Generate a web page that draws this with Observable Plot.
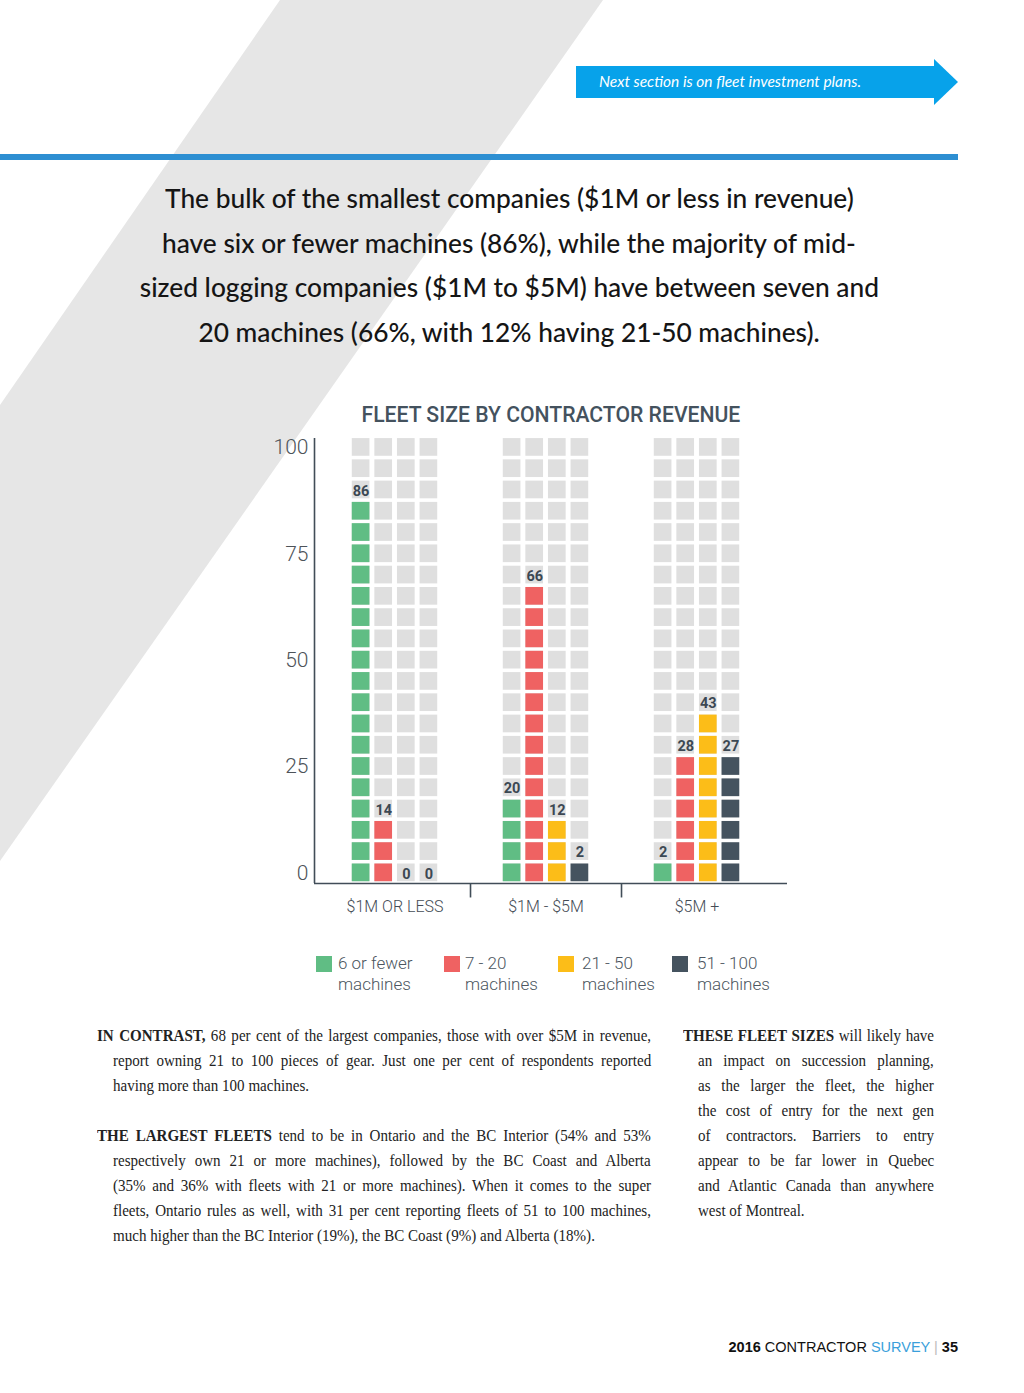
<!DOCTYPE html>
<html>
<head>
<meta charset="utf-8">
<script src="https://cdn.jsdelivr.net/npm/d3@7"></script>
<script src="https://cdn.jsdelivr.net/npm/@observablehq/plot@0.6"></script>
<style>
  html, body { margin: 0; padding: 0; }
  body { width: 1024px; height: 1393px; position: relative; overflow: hidden; background: #fff; font-family: Lato, "Noto Sans", sans-serif; }
  .abs { position: absolute; }
  #banner-text { left: 599px; top: 72px; color: #fff; font-style: italic; font-size: 15.5px; font-family: Lato, sans-serif; white-space: nowrap; }
  #headline { left: 0; width: 1018px; top: 176px; text-align: center; color: #151515; font-size: 26px; font-weight: 500; line-height: 44.5px; }
  #headline div { white-space: nowrap; }
  #headline span { display: inline-block; transform-origin: 50% 50%; }
  #title { left: 0; width: 1101px; top: 402px; text-align: center; color: #44525e; font-family: Roboto, sans-serif; font-weight: 500; font-size: 22px; white-space: nowrap; }
  #title span { display: inline-block; transform-origin: 50% 50%; }
  #chart { left: 0; top: 430px; }
  .leg { top: 953px; font-family: Roboto, sans-serif; font-weight: 300; font-size: 17px; line-height: 21px; color: #4c5660; white-space: nowrap; }
  .leg .sw { position: absolute; left: 0; top: 3px; width: 16px; height: 16px; }
  .col { font-family: "Liberation Serif", serif; font-size: 17.5px; line-height: 25px; color: #222; transform-origin: 0 0; }
  .col .ln { white-space: nowrap; }
  .col .ln span { display: inline-block; }
  .col b { font-weight: bold; }
  #footer { right: 66px; top: 1339px; font-family: "Liberation Sans", Arial, sans-serif; font-size: 14.5px; color: #111; white-space: nowrap; }
</style>
</head>
<body>
<svg class="abs" style="left:0;top:0" width="1024" height="1393">
  <polygon points="280,0 603,0 0,861 0,405" fill="#e6e6e6"/>
  <rect x="576" y="66" width="358" height="32" fill="#07a2ea"/>
  <polygon points="934,59 958,82 934,105" fill="#07a2ea"/>
  <rect x="0" y="154" width="958" height="6" fill="#2d8fd2"/>
</svg>
<div id="banner-text" class="abs">Next section is on fleet investment plans.</div>
<div id="headline" class="abs"></div>
<div id="title" class="abs"><span>FLEET SIZE BY CONTRACTOR REVENUE</span></div>
<div id="chart" class="abs"></div>
<div id="legend"></div>
<div id="colL" class="abs col"></div>
<div id="colR" class="abs col"></div>
<div id="footer" class="abs"><b>2016</b> CONTRACTOR <span style="color:#3a9fdb">SURVEY</span> <span style="color:#bbb;font-weight:300">|</span> <b>35</b></div>

<script>
// ---------------- data ----------------
const categories = ["$1M OR LESS", "$1M - $5M", "$5M +"];
const series = ["6 or fewer machines", "7 - 20 machines", "21 - 50 machines", "51 - 100 machines"];
const legendTop = ["6 or fewer", "7 - 20", "21 - 50", "51 - 100"];
const legendBottom = ["machines", "machines", "machines", "machines"];
const colors = ["#60bd84", "#ef6262", "#fcbd18", "#45535f"];
// per cent of companies (label values), per revenue category, one entry per series
const shareSmall = [86, 14, 0, 0];
const shareMid = [20, 66, 12, 2];
const shareLarge = [2, 28, 43, 27];
// filled squares as drawn in the picture (each grid row is a 5-point step)
const squaresSmall = [18, 3, 0, 0];
const squaresMid = [4, 14, 3, 1];
const squaresLarge = [1, 6, 8, 6];
const yTicks = [0, 25, 50, 75, 100];
const gridRows = 21;
const rowStep = 5;

const headlineLines = [
  "The bulk of the smallest companies ($1M or less in revenue)",
  "have six or fewer machines (86%), while the majority of mid-",
  "sized logging companies ($1M to $5M) have between seven and",
  "20 machines (66%, with 12% having 21-50 machines)."
];
const leftParas = [
  ["<b>IN CONTRAST,</b> 68 per cent of the largest companies, those with over $5M in revenue,",
   "report owning 21 to 100 pieces of gear. Just one per cent of respondents reported",
   "having more than 100 machines."],
  ["<b>THE LARGEST FLEETS</b> tend to be in Ontario and the BC Interior (54% and 53%",
   "respectively own 21 or more machines), followed by the BC Coast and Alberta",
   "(35% and 36% with fleets with 21 or more machines). When it comes to the super",
   "fleets, Ontario rules as well, with 31 per cent reporting fleets of 51 to 100 machines,",
   "much higher than the BC Interior (19%), the BC Coast (9%) and Alberta (18%)."]
];
const rightParas = [
  ["<b>THESE FLEET SIZES</b> will likely have",
   "an impact on succession planning,",
   "as the larger the fleet, the higher",
   "the cost of entry for the next gen",
   "of contractors. Barriers to entry",
   "appear to be far lower in Quebec",
   "and Atlantic Canada than anywhere",
   "west of Montreal."]
];

// ---------------- build records ----------------
const shares = [shareSmall, shareMid, shareLarge];
const squares = [squaresSmall, squaresMid, squaresLarge];
const cells = [];
const labels = [];
categories.forEach((cat, c) => {
  series.forEach((s, j) => {
    const n = squares[c][j];
    for (let r = 0; r < gridRows; r++) cells.push({cat, series: s, j, v: r * rowStep, filled: r < n});
    labels.push({cat, series: s, j, v: n * rowStep, value: shares[c][j]});
  });
});

// ---------------- chart ----------------
const W = 1024, H = 500, mL = 314, mR = 237, mT = 8, mB = 47;
const padOuter = 0.066, align = 0.25;
const step = (W - mL - mR) / (categories.length + 2 * padOuter);
const sq = 17.7;                 // square side (px)
const pitch = 22.6;              // sub-column pitch (px)
const inset = (step - sq) / 2;
const half = 2.08;               // half square height in value units
const off = j => (j - (series.length - 1) / 2) * pitch;
const axisColor = "#414d58";

const marks = [];
series.forEach((s, j) => {
  marks.push(Plot.barY(cells.filter(d => d.j === j), {
    x: "cat", y1: d => d.v - half, y2: d => d.v + half, fill: "#dfdfdf",
    dx: off(j), insetLeft: inset, insetRight: inset
  }));
});
series.forEach((s, j) => {
  marks.push(Plot.barY(cells.filter(d => d.j === j && d.filled), {
    x: "cat", y1: d => d.v - half, y2: d => d.v + half, fill: "series",
    dx: off(j), insetLeft: inset, insetRight: inset
  }));
});
series.forEach((s, j) => {
  marks.push(Plot.text(labels.filter(d => d.j === j), {
    x: "cat", y: "v", text: d => String(d.value), dx: off(j), dy: 1,
    fill: "#3c4853", fontSize: 14.5, fontWeight: "bold"
  }));
});
marks.push(Plot.ruleY([-2.5], {stroke: axisColor, strokeWidth: 1.6}));
marks.push(Plot.ruleX(categories.slice(0, 1), {x: d => d, dx: -step / 2 - 2 * padOuter * step * align, y1: -2.5, y2: 102.1, stroke: axisColor, strokeWidth: 1.6}));
marks.push(Plot.ruleX(categories.slice(0, -1), {x: d => d, dx: step / 2, y1: -2.5, y2: -5.9, stroke: axisColor, strokeWidth: 1.6}));
marks.push(Plot.axisY(yTicks, {tickSize: 0, tickPadding: 6, fontSize: 21, fontWeight: 300, fill: "#4d5359", label: null}));
marks.push(Plot.axisX({tickSize: 0, tickPadding: 17, fontSize: 16, fontWeight: 300, fill: "#444c55", label: null}));

const chart = Plot.plot({
  width: W, height: H,
  marginLeft: mL, marginRight: mR, marginTop: mT, marginBottom: mB,
  style: {fontFamily: "Roboto, sans-serif", background: "transparent", overflow: "visible"},
  x: {domain: categories, paddingInner: 0, paddingOuter: padOuter, align, label: null},
  y: {domain: [-2.5, 102.1], label: null},
  color: {domain: series, range: colors},
  marks
});
document.getElementById("chart").appendChild(chart);

// ---------------- legend ----------------
const legLefts = [316, 444, 558, 672];
const legTextOffsets = [22, 21, 24, 25];
const legend = document.getElementById("legend");
series.forEach((s, j) => {
  const d = document.createElement("div");
  d.className = "abs leg";
  d.style.left = legLefts[j] + "px";
  d.innerHTML = `<div class="sw" style="background:${colors[j]}"></div><div style="margin-left:${legTextOffsets[j]}px">${legendTop[j]}<br>${legendBottom[j]}</div>`;
  legend.appendChild(d);
});

// ---------------- headline ----------------
const hl = document.getElementById("headline");
headlineLines.forEach(t => {
  const d = document.createElement("div");
  d.innerHTML = `<span>${t}</span>`;
  hl.appendChild(d);
});
const spans = hl.querySelectorAll("span");
const hScale = 694 / spans[1].offsetWidth;
spans.forEach(sp => sp.style.transform = `scaleX(${hScale})`);

const ts = document.querySelector("#title span");
ts.style.transform = `scaleX(${379 / ts.offsetWidth})`;

// ---------------- body columns ----------------
function buildCol(el, paras, x0, x1, top, indent, scale) {
  el.style.left = x0 + "px";
  el.style.top = top + "px";
  el.style.transform = `scaleX(${scale})`;
  paras.forEach((lines, p) => {
    if (p > 0) { const g = document.createElement("div"); g.innerHTML = "&nbsp;"; el.appendChild(g); }
    lines.forEach((t, i) => {
      const d = document.createElement("div");
      d.className = "ln";
      d.style.paddingLeft = (i === 0 ? 0 : indent / scale) + "px";
      d.innerHTML = `<span>${t}</span>`;
      el.appendChild(d);
      const sp = d.firstChild;
      if (i < lines.length - 1) {
        const target = ((x1 - x0) - (i === 0 ? 0 : indent)) / scale;
        const w = sp.offsetWidth;
        const nSp = (sp.textContent.match(/ /g) || []).length;
        if (nSp) sp.style.wordSpacing = ((target - w) / nSp) + "px";
      }
    });
  });
}
buildCol(document.getElementById("colL"), leftParas, 97, 651, 1023, 16, 0.86);
buildCol(document.getElementById("colR"), rightParas, 683, 934, 1023, 15, 0.86);
</script>
</body>
</html>
